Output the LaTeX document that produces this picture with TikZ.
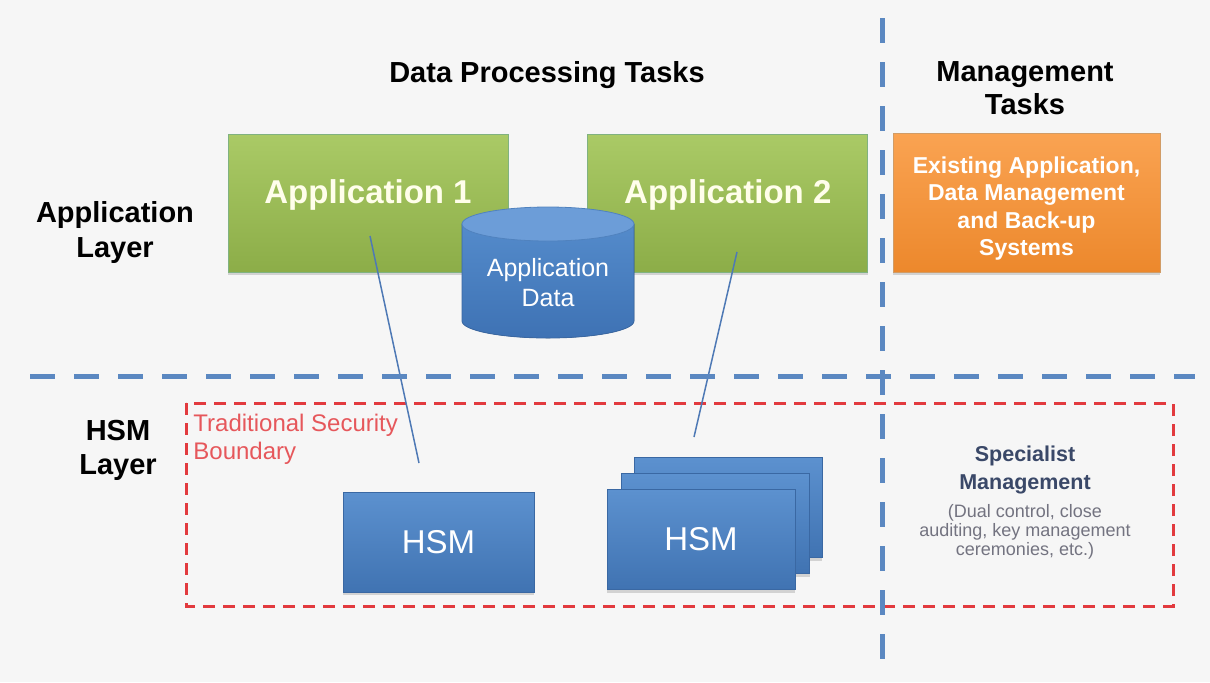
\documentclass[tikz,border=0pt]{standalone}
\usepackage{fontspec}
\setmainfont{Liberation Sans}
\usepackage{tikz}
\usetikzlibrary{shapes,arrows,positioning,calc,shadows}
\definecolor{bgcol}{HTML}{F6F6F6}
\definecolor{divblue}{HTML}{5B88C1}
\definecolor{linkblue}{HTML}{4E79B5}
\definecolor{bndred}{HTML}{E23A3E}
\definecolor{navy}{HTML}{3A4868}
\tikzstyle{appbox} = [rectangle, draw=green!40!black!50, top color={rgb,255:red,170;green,202;blue,102}, bottom color={rgb,255:red,140;green,173;blue,72}, minimum width=140pt, minimum height=69pt, drop shadow={opacity=0.3, shadow xshift=0pt, shadow yshift=-1.5pt}]
\tikzstyle{mgmtbox} = [rectangle, draw=orange!70!black!60, top color={rgb,255:red,250;green,163;blue,82}, bottom color={rgb,255:red,236;green,136;blue,44}, minimum width=133.5pt, minimum height=69.5pt, drop shadow={opacity=0.3, shadow xshift=0pt, shadow yshift=-1.5pt}]
\tikzstyle{mgmttext} = [text=white, align=center, font=\fontsize{11.5}{13.75}\selectfont\bfseries]
\tikzstyle{hsmbox} = [rectangle, draw={rgb,255:red,58;green,104;blue,163}, top color={rgb,255:red,92;green,145;blue,207}, bottom color={rgb,255:red,64;green,115;blue,178}, minimum width=94pt, minimum height=50pt, text=white, font=\fontsize{16.5}{19}\selectfont, drop shadow={opacity=0.3, shadow xshift=0pt, shadow yshift=-1.5pt}]
\tikzstyle{apptext} = [text=white!92!yellow, font=\fontsize{16.5}{19}\selectfont\bfseries]
\tikzstyle{heading} = [align=center, inner sep=0pt, font=\fontsize{14.5}{17}\selectfont\bfseries]
\tikzstyle{divider} = [line width=2.5pt, color=divblue, dash pattern=on 12.5pt off 9.5pt]
\tikzstyle{boundary} = [line width=1.5pt, color=bndred, dash pattern=on 6pt off 4pt]
\tikzstyle{link} = [line width=0.75pt, color=linkblue]

\begin{document}
\begin{tikzpicture}[x=0.5pt, y=-0.5pt, node distance=39.5pt]
    \useasboundingbox (0,0) rectangle (1210,682);
    \fill[bgcol] (0,0) rectangle (1210,682);

    % headings
    \node[heading] (dptitle) at (547,75) {Data Processing Tasks};
    \node[heading, font=\fontsize{14.5}{16.5}\selectfont\bfseries] (mttitle) at (1025,88) {Management\\Tasks};
    \node[heading, font=\fontsize{14.5}{17.5}\selectfont\bfseries] (applayer) at (115,232) {Application\\Layer};
    \node[heading, font=\fontsize{14.5}{17}\selectfont\bfseries] (hsmlayer) at (118,450) {HSM\\Layer};

    % application layer
    \node[appbox, label={[apptext, yshift=4pt]center:Application 1}] (app1) at (368,203) {};
    \node[appbox, right=of app1, label={[apptext, yshift=4pt]center:Application 2}] (app2) {};
    \node[mgmtbox, label={[mgmttext, yshift=-3pt]center:Existing Application,\\Data Management\\and Back-up\\Systems}] (existing) at (1026.5,202.5) {};

    % application data store
    \fill[top color={rgb,255:red,84;green,139;blue,203}, bottom color={rgb,255:red,62;green,114;blue,180}, draw={rgb,255:red,58;green,104;blue,163}, line width=0.4pt]
        (462,224) -- (462,321) arc[start angle=180, end angle=0, x radius=86, y radius=17] -- (634,224) -- cycle;
    \fill[fill={rgb,255:red,108;green,157;blue,216}, draw={rgb,255:red,80;green,130;blue,190}, line width=0.4pt]
        (548,224) ellipse[x radius=86, y radius=17];
    \node[text=white, align=center, font=\fontsize{12.5}{15}\selectfont] (appdata) at (548,283) {Application\\Data};

    % hsm layer
    \draw[boundary] (186,403) rectangle (1173,606);
    \node[anchor=west, inner sep=0pt, text=bndred!85, align=left, font=\fontsize{12}{14}\selectfont] (tradlabel) at (193,439) {Traditional Security\\Boundary};
    \node[hsmbox, minimum width=95.5pt] (hsm1) at (438.5,542) {HSM};
    \node[hsmbox] (hsm2c) at (728,507.5) {};
    \node[hsmbox] (hsm2b) at (715.5,523.5) {};
    \node[hsmbox] (hsm2) at (701,539.5) {HSM};

    \node[align=center, inner sep=0pt, text=navy, font=\fontsize{10.75}{14}\selectfont\bfseries] (specmgmt) at (1025,470) {Specialist\\Management};
    \node[align=center, inner sep=0pt, text=black!50!blue!10!gray, font=\fontsize{9}{9.5}\selectfont, below=5pt of specmgmt] (specnote) {(Dual control, close\\auditing, key management\\ceremonies, etc.)};

    % links
    \coordinate (l1a) at (370,236);
    \coordinate (l1b) at (419,463);
    \coordinate (l2a) at (737,252);
    \coordinate (l2b) at (694,437);
    \draw[link] (l1a) -- (l1b);
    \draw[link] (l2a) -- (l2b);

    % dividers
    \draw[divider] (882,18) -- (882,662);
    \draw[divider] (30,376) -- (1195,376);
\end{tikzpicture}
\end{document}
